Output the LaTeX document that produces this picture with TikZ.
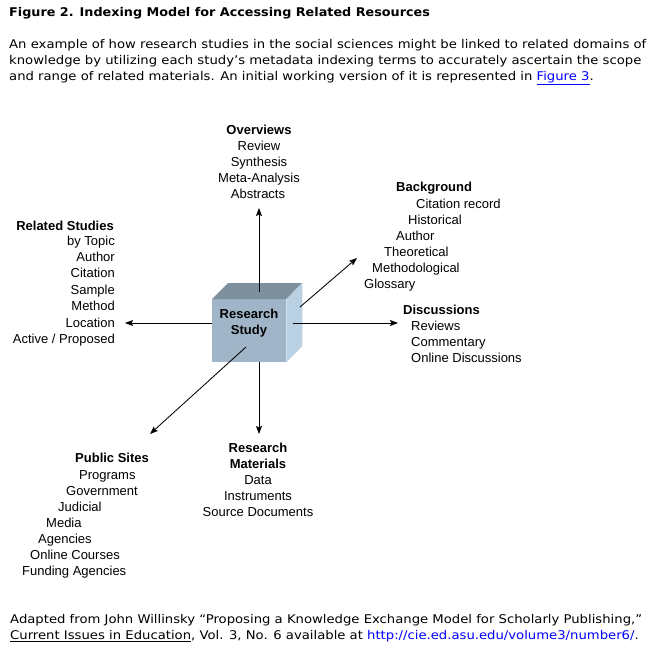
\documentclass[tikz,border=0pt]{standalone}
\usepackage{fontspec}
\setmainfont{Liberation Sans}
\newfontfamily\verd[FakeStretch=1.1]{DejaVu Sans}
\newfontfamily\verdt[FakeStretch=1.065]{DejaVu Sans}
\usetikzlibrary{arrows.meta}
\definecolor{frontc}{RGB}{160,182,200}
\definecolor{topc}{RGB}{126,144,157}
\definecolor{rightc}{RGB}{185,209,227}
\definecolor{linkblue}{RGB}{0,0,255}
\begin{document}
\begin{tikzpicture}[x=1pt,y=-1pt,
  lbl/.style={inner sep=0pt, font=\fontsize{13}{16}\selectfont},
  hd/.style={inner sep=0pt, font=\fontsize{13}{16}\selectfont\bfseries},
  hdr/.style={inner sep=0pt, anchor=base west, font=\verd\fontsize{12}{14}\selectfont},
  ttl/.style={inner sep=0pt, anchor=base west, font=\verdt\fontsize{12}{14}\selectfont\bfseries},
  arr/.style={-{Stealth[length=8pt,width=6pt,inset=1.5pt]}, line width=0.85pt}]
\fill[white] (0,0) rectangle (656,650);
\useasboundingbox (0,0) rectangle (656,650);

% header
\node[ttl] (title) at (9,16.5) {Figure 2. Indexing Model for Accessing Related Resources};
\node[hdr] (p1) at (9,48.5) {An example of how research studies in the social sciences might be linked to related domains of};
\node[hdr] (p2) at (9,64.5) {knowledge by utilizing each study’s metadata indexing terms to accurately ascertain the scope};
\node[hdr] (p3) at (9,80.5) {and range of related materials. An initial working version of it is represented in \textcolor{linkblue}{\underline{Figure 3}}.};

% footer
\node[hdr] (f1) at (10,623.5) {Adapted from John Willinsky “Proposing a Knowledge Exchange Model for Scholarly Publishing,”};
\node[hdr] (f2) at (10,639.5) {\underline{Current Issues in Education}, Vol. 3, No. 6 available at \textcolor{linkblue}{http://cie.ed.asu.edu/volume3/number6/}.};

% cube
\node[fill=frontc, minimum width=74pt, minimum height=63pt, inner sep=0pt, anchor=north west] (study) at (212,299) {};
\fill[topc] (study.north west) -- ++(16,-16) -- ++(74,0) -- (study.north east) -- cycle;
\fill[rightc] (study.north east) -- ++(16,-16) -- ++(0,63) -- (study.south east) -- cycle;
\node[hd, align=center] (studytxt) at (249,323) {Research\\Study};

% arrow coordinates
\coordinate (upS) at (259,292);   \coordinate (upT) at (259,208);
\coordinate (lfS) at (212,323);   \coordinate (lfT) at (125,323);
\coordinate (rtS) at (293,323);   \coordinate (rtT) at (398,323);
\coordinate (dnS) at (259,362);   \coordinate (dnT) at (259,434);
\coordinate (urS) at (300,307);   \coordinate (urT) at (357,258);
\coordinate (dlS) at (246,347);   \coordinate (dlT) at (150,434);
\draw[arr] (upS) -- (upT);
\draw[arr] (lfS) -- (lfT);
\draw[arr] (rtS) -- (rtT);
\draw[arr] (dnS) -- (dnT);
\draw[arr] (urS) -- (urT);
\draw[arr] (dlS) -- (dlT);

% Overviews
\node[hd, anchor=base] (ov) at (259,134.5) {Overviews};
\node[lbl, anchor=base] (ov1) at (259,150.5) {Review};
\node[lbl, anchor=base] (ov2) at (259,166.5) {Synthesis};
\node[lbl, anchor=base] (ov3) at (259,182.5) {Meta-Analysis};
\node[lbl, anchor=base] (ov4) at (258,198.5) {Abstracts};

% Background
\node[hd, anchor=base west] (bg) at (396,191.5) {Background};
\node[lbl, anchor=base west] (bg1) at (416,208.5) {Citation record};
\node[lbl, anchor=base west] (bg2) at (408,224.5) {Historical};
\node[lbl, anchor=base west] (bg3) at (396,240.5) {Author};
\node[lbl, anchor=base west] (bg4) at (384,256.5) {Theoretical};
\node[lbl, anchor=base west] (bg5) at (372,272.5) {Methodological};
\node[lbl, anchor=base west] (bg6) at (364,288.5) {Glossary};

% Related Studies
\node[hd, anchor=base east] (rs) at (114,230.5) {Related Studies};
\node[lbl, anchor=base east] (rs1) at (115,245.5) {by Topic};
\node[lbl, anchor=base east] (rs2) at (115,261.5) {Author};
\node[lbl, anchor=base east] (rs3) at (115,277.5) {Citation};
\node[lbl, anchor=base east] (rs4) at (115,294) {Sample};
\node[lbl, anchor=base east] (rs5) at (115,310) {Method};
\node[lbl, anchor=base east] (rs6) at (115,327) {Location};
\node[lbl, anchor=base east] (rs7) at (115,343) {Active / Proposed};

% Discussions
\node[hd, anchor=base west] (ds) at (403,314.5) {Discussions};
\node[lbl, anchor=base west] (ds1) at (411,330.5) {Reviews};
\node[lbl, anchor=base west] (ds2) at (411,346.5) {Commentary};
\node[lbl, anchor=base west] (ds3) at (411,362.5) {Online Discussions};

% Public Sites
\node[hd, anchor=base west] (ps) at (75,462.5) {Public Sites};
\node[lbl, anchor=base west] (ps1) at (79,479.5) {Programs};
\node[lbl, anchor=base west] (ps2) at (66,495.5) {Government};
\node[lbl, anchor=base west] (ps3) at (58,511.5) {Judicial};
\node[lbl, anchor=base west] (ps4) at (46,527.5) {Media};
\node[lbl, anchor=base west] (ps5) at (38,543.5) {Agencies};
\node[lbl, anchor=base west] (ps6) at (30,559.5) {Online Courses};
\node[lbl, anchor=base west] (ps7) at (22,575.5) {Funding Agencies};

% Research Materials
\node[hd, anchor=base] (rm) at (258,452.5) {Research};
\node[hd, anchor=base] (rmb) at (258,468.5) {Materials};
\node[lbl, anchor=base] (rm1) at (258,484.5) {Data};
\node[lbl, anchor=base] (rm2) at (258,500.5) {Instruments};
\node[lbl, anchor=base] (rm3) at (258,516.5) {Source Documents};
\end{tikzpicture}
\end{document}
